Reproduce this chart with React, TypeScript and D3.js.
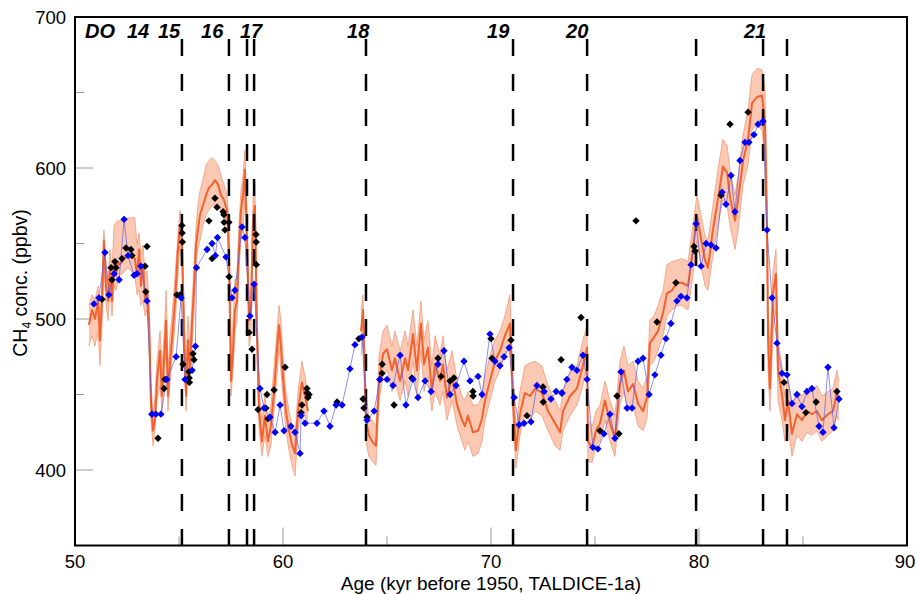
import React, { useEffect, useRef } from 'react';
import * as d3 from 'd3';

// CH4 record, TALDICE, DO 14-21. Values.

// orange: model/ensemble curve with its envelope (null = gap in the record)
const orangeAge = [
  50.67, 50.82, 50.96, 51.11, 51.2, 51.3, 51.39, 51.49, 51.59, 51.68, 51.78, 51.88, 51.97, 52.07, 52.16, 52.36,
  52.55, 52.74, 52.88, 52.98, 53.08, 53.17, 53.27, 53.37, 53.46, 53.56, 53.65, 53.75, 53.85, 53.94, 54.09, 54.18,
  54.28, 54.38, 54.47, 54.57, 54.66, 54.81, 54.95, 55.05, 55.14, 55.24, 55.34, 55.43, 55.53, 55.63, 55.72, 55.82,
  55.91, 56.01, 56.15, 56.3, 56.44, 56.59, 56.73, 56.88, 57.02, 57.16, 57.31, 57.4, 57.5, 57.6, 57.69, 57.79,
  57.88, 57.98, 58.08, 58.17, 58.27, 58.37, 58.46, 58.56, 58.65, 58.75, 58.85, 58.99, 59.13, 59.28, 59.42, 59.57,
  59.71, 59.81, 59.9, 60.0, 60.14, 60.29, 60.43, 60.58, 60.72, 60.91, 61.06, 61.2,
  62.5,
  63.75, 63.85, 63.99, 64.13, 64.28, 64.47, 64.62, 64.81, 65.0, 65.24, 65.38, 65.63, 65.87, 66.01, 66.25, 66.44,
  66.63, 66.78, 66.97, 67.16, 67.31, 67.55, 67.69, 67.88, 68.13, 68.37, 68.61, 68.75, 68.89, 69.13, 69.38, 69.57,
  69.71, 69.95, 70.19, 70.43, 70.67, 70.91, 71.06, 71.2, 71.39, 71.63, 71.88, 72.12, 72.45, 72.74, 73.08, 73.32,
  73.46, 73.8, 74.13, 74.42, 74.62, 74.66, 74.86, 75.05, 75.24, 75.48, 75.72, 75.96, 76.2, 76.39, 76.59, 76.83,
  77.07, 77.31, 77.5, 77.64, 77.84, 78.03, 78.27, 78.46, 78.7, 78.94, 79.18, 79.47, 79.71, 79.9, 80.05, 80.29,
  80.43, 80.67, 80.91, 81.15, 81.35, 81.49, 81.73, 81.88, 82.12, 82.36, 82.55, 82.79, 83.03, 83.17, 83.27, 83.32,
  83.41, 83.56, 83.7, 83.8, 83.99, 84.13, 84.28, 84.47, 84.71, 84.95, 85.19, 85.43, 85.67, 85.91, 86.2, 86.44,
  86.63, 86.73,
];
const orangeMid = [
  496, 506, 500, 512, 486, 512, 552, 522, 512, 532, 512, 538, 529, 538, 536, 540,
  542, 542, 540, 529, 546, 522, 536, 512, 519, 499, 446, 426, 434, 459, 479, 449,
  472, 499, 449, 472, 486, 512, 546, 562, 552, 492, 449, 486, 466, 499, 519, 549,
  559, 569, 575, 582, 587, 589, 592, 589, 582, 579, 572, 546, 459, 479, 506, 512,
  546, 572, 582, 599, 552, 499, 506, 565, 575, 492, 439, 419, 436, 419, 429, 452,
  479, 496, 482, 461, 439, 426, 417, 411, 439, 458, 449, 439,
  null,
  492, 506, 433, 423, 419, 416, 459, 477, 480, 466, 474, 459, 474, 466, 490, 466,
  497, 470, 481, 452, 470, 459, 470, 448, 462, 443, 433, 429, 436, 425, 426, 434,
  446, 459, 472, 479, 489, 497, 446, 413, 437, 451, 449, 454, 451, 439, 431, 425,
  439, 449, 454, 469, 481, 419, 415, 426, 431, 446, 431, 421, 457, 466, 452, 457,
  444, 439, 448, 484, 488, 492, 504, 517, 519, 524, 524, 522, 546, 569, 557, 539,
  534, 559, 579, 601, 597, 581, 565, 579, 605, 619, 643, 647, 648, 630, 561, 488,
  454, 517, 530, 466, 450, 433, 446, 424, 437, 433, 439, 437, 439, 433, 437, 439,
  451, 446,
];
const orangeHi = [
  509, 516, 512, 522, 499, 526, 559, 536, 526, 546, 532, 562, 564, 565, 565, 565,
  567, 567, 567, 549, 557, 542, 549, 529, 532, 512, 459, 436, 449, 472, 492, 466,
  489, 519, 466, 489, 502, 529, 555, 572, 565, 512, 466, 502, 482, 512, 536, 562,
  575, 585, 592, 602, 605, 607, 605, 602, 595, 589, 582, 565, 476, 499, 526, 529,
  562, 585, 595, 612, 569, 516, 519, 582, 589, 509, 452, 433, 449, 433, 443, 469,
  492, 509, 499, 476, 452, 439, 429, 423, 452, 472, 462, 449,
  null,
  506, 516, 449, 436, 433, 429, 476, 492, 496, 482, 492, 479, 492, 482, 506, 482,
  512, 486, 499, 469, 489, 476, 489, 466, 479, 459, 449, 446, 452, 443, 443, 449,
  462, 476, 486, 492, 502, 516, 462, 426, 452, 469, 471, 472, 469, 456, 446, 439,
  452, 464, 469, 486, 496, 433, 429, 439, 443, 459, 446, 436, 472, 482, 469, 472,
  459, 454, 462, 499, 502, 509, 519, 536, 538, 539, 540, 538, 562, 582, 572, 555,
  552, 575, 599, 619, 615, 599, 582, 595, 622, 639, 662, 666, 665, 652, 585, 512,
  479, 532, 546, 486, 469, 449, 462, 443, 452, 449, 454, 452, 456, 449, 452, 454,
  466, 459,
];
const orangeLo = [
  482, 489, 482, 492, 469, 496, 536, 509, 499, 519, 502, 522, 519, 526, 529, 531,
  534, 531, 529, 516, 519, 509, 512, 502, 506, 486, 433, 416, 426, 446, 456, 439,
  459, 482, 439, 459, 472, 496, 529, 549, 536, 476, 439, 469, 456, 482, 502, 536,
  546, 552, 562, 569, 572, 575, 575, 575, 572, 569, 562, 529, 449, 466, 492, 499,
  532, 552, 562, 579, 536, 482, 489, 549, 559, 476, 426, 409, 423, 409, 416, 439,
  462, 482, 466, 449, 426, 413, 403, 396, 426, 443, 436, 429,
  null,
  476, 489, 419, 409, 406, 403, 446, 462, 466, 452, 459, 446, 459, 449, 472, 449,
  479, 452, 462, 439, 452, 443, 452, 433, 446, 429, 419, 413, 419, 409, 411, 419,
  433, 446, 459, 466, 476, 482, 433, 401, 423, 436, 433, 439, 436, 426, 416, 413,
  426, 436, 443, 456, 469, 406, 405, 416, 419, 433, 419, 409, 443, 452, 439, 443,
  429, 426, 434, 469, 472, 479, 489, 502, 506, 509, 509, 506, 529, 552, 539, 522,
  519, 542, 562, 579, 575, 562, 546, 559, 589, 602, 625, 629, 625, 605, 539, 466,
  439, 492, 506, 446, 433, 419, 429, 409, 423, 419, 425, 423, 426, 419, 423, 426,
  436, 433,
];

// blue: discrete measurements, joined by a thin line
const blueAge = [
  50.91, 51.15, 51.44, 51.63, 51.88, 52.12, 52.36, 52.55, 52.84, 52.98, 53.17, 53.46, 53.7, 53.89, 54.13, 54.42,
  54.86, 55.1, 55.29, 55.63, 55.79, 55.84, 56.35, 56.59, 56.75, 56.85, 57.26, 57.55, 57.69, 58.03, 58.17, 58.41,
  58.61, 58.89, 59.09, 59.38, 59.62, 59.86, 60.05, 60.38, 60.58, 60.82, 60.87, 61.06, 61.63, 61.97, 62.26, 62.55,
  62.84, 63.22, 63.46, 63.8, 64.04, 64.38, 64.66, 65.0, 65.29, 65.63, 65.91, 66.25, 66.49, 66.83, 67.12, 67.45,
  67.74, 68.03, 68.32, 68.7, 68.99, 69.38, 69.57, 69.95, 70.19, 70.43, 70.63, 70.87, 71.11, 71.35, 71.59, 71.92,
  72.21, 72.55, 72.88, 73.13, 73.41, 73.65, 73.89, 74.13, 74.42, 74.62, 74.9, 75.14, 75.43, 75.72, 75.96, 76.25,
  76.54, 76.78, 77.07, 77.31, 77.6, 77.88, 78.17, 78.41, 78.65, 78.94, 79.13, 79.42, 79.62, 79.86, 80.1, 80.34,
  80.58, 80.82, 81.11, 81.3, 81.54, 81.73, 81.97, 82.21, 82.4, 82.64, 82.84, 83.08, 83.27, 83.51, 83.75, 83.99,
  84.23, 84.47, 84.71, 84.95, 85.19, 85.43, 85.77, 85.96, 86.2, 86.49, 86.73,
];
const blueCH4 = [
  510, 514, 544, 516, 530, 526, 566, 542, 529, 530, 535, 512, 437, 437, 437, 460,
  475, 514, 460, 466, 482, 534, 546, 550, 542, 554, 541, 514, 519, 561, 554, 502,
  523, 454, 441, 435, 425, 443, 426, 429, 425, 411, 436, 431, 431, 439, 429, 443,
  443, 467, 483, 488, 433, 439, 460, 460, 456, 476, 443, 460, 448, 459, 452, 470,
  479, 450, 456, 472, 459, 462, 450, 490, 472, 469, 475, 481, 448, 430, 431, 432,
  456, 452, 447, 452, 451, 460, 468, 466, 476, 460, 415, 414, 424, 437, 421, 465,
  441, 441, 472, 474, 450, 463, 476, 487, 497, 512, 515, 514, 536, 563, 535, 550,
  549, 547, 584, 576, 595, 571, 605, 617, 617, 622, 629, 631, 559, 514, 484, 464,
  463, 444, 450, 442, 452, 454, 429, 425, 468, 428, 447,
];

// black: second set of measurements, markers only
const blackAge = [
  51.3, 51.73, 51.78, 51.92, 51.97, 52.26, 52.45, 52.69, 52.74, 53.37, 53.4, 53.46, 53.7, 53.99, 54.28, 54.33,
  54.9, 55.05, 55.14, 55.15, 55.16, 55.19, 55.48, 55.49, 55.5, 55.67, 55.72, 56.44, 56.59, 56.73, 56.83, 57.12,
  57.16, 57.17, 57.21, 57.4, 57.41, 58.37, 58.51, 58.7, 58.71, 58.72, 58.8, 59.18, 59.23, 59.28, 59.57, 60.1,
  60.87, 60.91, 61.15, 61.16, 61.2, 61.25, 62.6, 63.65, 63.85, 63.89, 64.04, 64.66, 64.76, 64.77, 65.34, 66.2,
  67.45, 67.6, 68.03, 68.22, 69.13, 69.14, 70.0, 70.05, 70.96, 71.73, 72.5, 72.51, 73.37, 73.41, 74.33, 75.24,
  76.06, 76.15, 76.97, 77.98, 78.89, 79.76, 79.81, 81.06, 81.49, 82.36, 84.09, 85.14, 85.63, 86.63,
];
const blackCH4 = [
  513, 534, 526, 538, 534, 540, 547, 546, 542, 535, 518, 548, 437, 421, 454, 460,
  516, 516, 562, 557, 551, 470, 465, 461, 458, 477, 473, 565, 540, 580, 574, 571,
  569, 564, 559, 564, 528, 491, 480, 556, 551, 536, 440, 441, 450, 434, 453, 468,
  438, 443, 454, 451, 448, 450, 445, 487, 447, 441, 435, 460, 464, 470, 443, 461,
  474, 462, 459, 461, 452, 449, 487, 474, 486, 436, 455, 445, 473, 451, 501, 426,
  449, 424, 565, 498, 524, 548, 545, 582, 629, 637, 458, 438, 445, 452,
];

// dashed event lines and DO labels
const eventAges = [55.14, 57.4, 58.27, 58.61, 63.99, 71.06, 74.62, 79.86, 83.08, 84.23];
const doLabels = ['DO', '14', '15', '16', '17', '18', '19', '20', '21'];
const doLabelAges = [50.48, 52.5, 53.99, 56.06, 57.93, 63.08, 69.81, 73.61, 82.16];

const xTicks = [50, 60, 70, 80, 90];
const xMinorTicks = [55, 65, 75, 85];
const yTicks = [400, 500, 600, 700];
const yMinorTicks = [450, 550, 650];

const width = 916;
const height = 594;
const font = "'Liberation Sans', Arial, sans-serif";

const App = () => {
  const ref = useRef(null);

  useEffect(() => {
    const svg = d3.select(ref.current);
    svg.selectAll('*').remove();

    const x = d3.scaleLinear().domain([50, 90]).range([75, 907]);
    const y = d3.scaleLinear().domain([350, 700]).range([545.5, 17]);
    const x0 = x.range()[0], x1 = x.range()[1];
    const yb = y.range()[0], yt = y.range()[1];

    svg.append('rect').attr('width', width).attr('height', height).attr('fill', '#fff');

    // ticks (grey, drawn inside the frame)
    const ticks = svg.append('g').attr('stroke', '#9a9a9a').attr('stroke-width', 1);
    ticks.selectAll('.ym').data(yTicks).join('line')
      .attr('x1', x0).attr('x2', x0 + 18).attr('y1', d => y(d)).attr('y2', d => y(d));
    ticks.selectAll('.yn').data(yMinorTicks).join('line')
      .attr('x1', x0).attr('x2', x0 + 9).attr('y1', d => y(d)).attr('y2', d => y(d));
    ticks.selectAll('.xm').data(xTicks).join('line')
      .attr('x1', d => x(d)).attr('x2', d => x(d)).attr('y1', yb).attr('y2', yb - 18);
    ticks.selectAll('.xn').data(xMinorTicks).join('line')
      .attr('x1', d => x(d)).attr('x2', d => x(d)).attr('y1', yb).attr('y2', yb - 9);

    // orange envelope + curve
    const idx = d3.range(orangeAge.length);
    const ok = (i: number) => orangeMid[i] != null;
    svg.append('path')
      .attr('d', d3.area<number>().defined(ok)
        .x(i => x(orangeAge[i])).y0(i => y(orangeLo[i] as number)).y1(i => y(orangeHi[i] as number))(idx))
      .attr('fill', '#f9b59a').attr('fill-opacity', 0.75);
    const edge = (arr: (number | null)[]) => d3.line<number>().defined(ok)
      .x(i => x(orangeAge[i])).y(i => y(arr[i] as number))(idx);
    svg.append('path').attr('d', edge(orangeHi)).attr('fill', 'none')
      .attr('stroke', '#f4926c').attr('stroke-width', 1).attr('stroke-opacity', 0.7);
    svg.append('path').attr('d', edge(orangeLo)).attr('fill', 'none')
      .attr('stroke', '#f4926c').attr('stroke-width', 1).attr('stroke-opacity', 0.7);
    svg.append('path').attr('d', edge(orangeMid)).attr('fill', 'none')
      .attr('stroke', '#f2622f').attr('stroke-width', 2).attr('stroke-linejoin', 'round');

    // dashed event lines
    svg.append('g').selectAll('line').data(eventAges).join('line')
      .attr('x1', d => x(d)).attr('x2', d => x(d))
      .attr('y1', 39).attr('y2', yb)
      .attr('stroke', '#000').attr('stroke-width', 2.5).attr('stroke-dasharray', '17,18');

    // blue connecting line
    const bIdx = d3.range(blueAge.length);
    svg.append('path')
      .attr('d', d3.line<number>().x(i => x(blueAge[i])).y(i => y(blueCH4[i]))(bIdx))
      .attr('fill', 'none').attr('stroke', '#5a5ae6').attr('stroke-width', 0.9).attr('stroke-opacity', 0.75);

    const diamond = 'M0,-3.7L3.7,0L0,3.7L-3.7,0Z';
    svg.append('g').selectAll('path').data(d3.range(blackAge.length)).join('path')
      .attr('d', diamond)
      .attr('transform', i => `translate(${x(blackAge[i])},${y(blackCH4[i])})`)
      .attr('fill', '#000');
    svg.append('g').selectAll('path').data(bIdx).join('path')
      .attr('d', diamond)
      .attr('transform', i => `translate(${x(blueAge[i])},${y(blueCH4[i])})`)
      .attr('fill', '#0000ff');

    // DO labels
    svg.append('g')
      .attr('font-family', font).attr('font-size', 20).attr('font-weight', 'bold').attr('font-style', 'italic')
      .selectAll('text').data(d3.range(doLabels.length)).join('text')
      .attr('x', i => x(doLabelAges[i])).attr('y', 38)
      .text(i => doLabels[i]);

    // frame
    svg.append('rect')
      .attr('x', x0).attr('y', yt).attr('width', x1 - x0).attr('height', yb - yt)
      .attr('fill', 'none').attr('stroke', '#000').attr('stroke-width', 2);

    // tick labels
    const lab = svg.append('g').attr('font-family', font).attr('font-size', 18.5).attr('fill', '#000');
    lab.selectAll('.xl').data(xTicks).join('text')
      .attr('x', d => Math.min(x(d), 905)).attr('y', 568).attr('text-anchor', 'middle').text(d => d);
    lab.selectAll('.yl').data(yTicks).join('text')
      .attr('x', 66).attr('y', d => y(d) + 7).attr('text-anchor', 'end').text(d => d);

    // axis titles
    lab.append('text')
      .attr('x', (x0 + x1) / 2).attr('y', 590).attr('text-anchor', 'middle').attr('font-size', 19)
      .text('Age (kyr before 1950, TALDICE-1a)');
    const yt2 = lab.append('text')
      .attr('transform', 'translate(27,283) rotate(-90)').attr('text-anchor', 'middle').attr('font-size', 19.5);
    yt2.append('tspan').text('CH');
    yt2.append('tspan').attr('font-size', 12).attr('dy', 4).text('4');
    yt2.append('tspan').attr('dy', -4).text(' conc. (ppbv)');
  }, []);

  return (
    <svg ref={ref} width={width} height={height}
      style={{ position: 'absolute', left: 0, top: 0, display: 'block' }} />
  );
};

export default App;
